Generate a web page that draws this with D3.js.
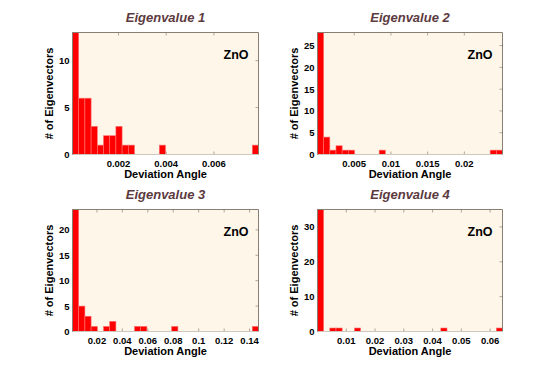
<!DOCTYPE html>
<html>
<head>
<meta charset="utf-8">
<script src="https://cdn.jsdelivr.net/npm/d3@7"></script>
<style>
    body { margin: 0; background: #ffffff; }
    text { font-family: "Liberation Sans", Arial, Helvetica, sans-serif; font-weight: bold; }
</style>
</head>
<body>
<div id="chart"></div>
<script>
/*global d3: false*/

// Histogram counts, 30 bins per panel
var counts1 = [13, 6, 6, 3, 1, 2, 2, 3, 1, 1, 0, 0, 0, 0, 1, 0, 0, 0, 0, 0, 0, 0, 0, 0, 0, 0, 0, 0, 0, 1];
var counts2 = [28, 4, 1, 2, 1, 1, 0, 0, 0, 0, 1, 0, 0, 0, 0, 0, 0, 0, 0, 0, 0, 0, 0, 0, 0, 0, 0, 0, 1, 1];
var counts3 = [24, 5, 3, 1, 0, 1, 2, 0, 0, 0, 1, 1, 0, 0, 0, 0, 1, 0, 0, 0, 0, 0, 0, 0, 0, 0, 0, 0, 0, 1];
var counts4 = [35, 0, 1, 1, 0, 0, 1, 0, 0, 0, 0, 0, 0, 0, 0, 0, 0, 0, 0, 0, 1, 0, 0, 0, 0, 0, 0, 0, 0, 1];

// Data range (min, max deviation angle) per panel
var range1 = [0.00007, 0.00787];
var range2 = [0.0000, 0.0252];
var range3 = [0.0008, 0.1470];
var range4 = [0.0000, 0.0643];

// Tick values
var xTicks1 = [0.002, 0.004, 0.006];
var xTicks2 = [0.005, 0.01, 0.015, 0.02];
var xTicks3 = [0.02, 0.04, 0.06, 0.08, 0.1, 0.12, 0.14];
var xTicks4 = [0.01, 0.02, 0.03, 0.04, 0.05, 0.06];
var yTicks1 = [0, 5, 10];
var yTicks2 = [0, 5, 10, 15, 20, 25];
var yTicks3 = [0, 5, 10, 15, 20];
var yTicks4 = [0, 10, 20, 30];

var titles = ['Eigenvalue 1', 'Eigenvalue 2', 'Eigenvalue 3', 'Eigenvalue 4'];
var material = 'ZnO';

function drawPanel(svg, box, counts, range, yMax, xTicks, yTicks, title) {
    'use strict';
    var g, x, y, n, step, edges, tickLen;

    n = counts.length;
    step = (range[1] - range[0]) / n;
    edges = counts.map(function(c, k) {
        return {x0: range[0] + k * step, x1: range[0] + (k + 1) * step, c: c};
    });
    tickLen = 3;

    x = d3.scaleLinear().domain(range).range([box.left, box.right]);
    y = d3.scaleLinear().domain([0, yMax]).range([box.bottom, box.top]);

    g = svg.append('g');

    // Background
    g.append('rect')
        .attr('x', box.left)
        .attr('y', box.top)
        .attr('width', box.right - box.left)
        .attr('height', box.bottom - box.top)
        .attr('fill', '#fff6ea');

    // Ticks on all four sides, pointing inward
    xTicks.forEach(function(t) {
        g.append('line')
            .attr('x1', x(t)).attr('x2', x(t))
            .attr('y1', box.bottom).attr('y2', box.bottom - tickLen)
            .attr('stroke', '#9a9088').attr('stroke-width', 0.8);
        g.append('line')
            .attr('x1', x(t)).attr('x2', x(t))
            .attr('y1', box.top).attr('y2', box.top + tickLen)
            .attr('stroke', '#9a9088').attr('stroke-width', 0.8);
    });
    yTicks.forEach(function(t) {
        g.append('line')
            .attr('x1', box.left).attr('x2', box.left + tickLen)
            .attr('y1', y(t)).attr('y2', y(t))
            .attr('stroke', '#9a9088').attr('stroke-width', 0.8);
        g.append('line')
            .attr('x1', box.right).attr('x2', box.right - tickLen)
            .attr('y1', y(t)).attr('y2', y(t))
            .attr('stroke', '#9a9088').attr('stroke-width', 0.8);
    });

    // Bars
    g.selectAll('rect.bar')
        .data(edges.filter(function(d) { return d.c > 0; }))
        .enter().append('rect')
        .attr('class', 'bar')
        .attr('x', function(d) { return x(d.x0); })
        .attr('y', function(d) { return y(d.c); })
        .attr('width', function(d) { return x(d.x1) - x(d.x0); })
        .attr('height', function(d) { return y(0) - y(d.c); })
        .attr('fill', '#ff0000')
        .attr('stroke', '#ff7070')
        .attr('stroke-width', 0.6);

    // Box
    g.append('line')
        .attr('x1', box.left).attr('x2', box.right)
        .attr('y1', box.top).attr('y2', box.top)
        .attr('stroke', '#8a7d72').attr('stroke-width', 1);
    g.append('line')
        .attr('x1', box.right).attr('x2', box.right)
        .attr('y1', box.top).attr('y2', box.bottom)
        .attr('stroke', '#8a7d72').attr('stroke-width', 1);
    g.append('line')
        .attr('x1', box.left).attr('x2', box.right)
        .attr('y1', box.bottom).attr('y2', box.bottom)
        .attr('stroke', '#cfc6bd').attr('stroke-width', 1);
    g.append('line')
        .attr('x1', box.left).attr('x2', box.left)
        .attr('y1', box.top).attr('y2', box.bottom)
        .attr('stroke', '#8a7d72').attr('stroke-width', 1);

    // Tick labels
    g.selectAll('text.xt')
        .data(xTicks)
        .enter().append('text')
        .attr('class', 'xt')
        .attr('x', function(d) { return x(d); })
        .attr('y', box.bottom + 12.5)
        .attr('text-anchor', 'middle')
        .attr('font-size', '9.5px')
        .attr('fill', '#000')
        .text(function(d) { return String(d); });
    g.selectAll('text.yt')
        .data(yTicks)
        .enter().append('text')
        .attr('class', 'yt')
        .attr('x', box.left - 3)
        .attr('y', function(d) { return y(d) + 3.5; })
        .attr('text-anchor', 'end')
        .attr('font-size', '9.5px')
        .attr('fill', '#000')
        .text(function(d) { return String(d); });

    // Axis labels
    g.append('text')
        .attr('x', (box.left + box.right) / 2)
        .attr('y', box.bottom + 23)
        .attr('text-anchor', 'middle')
        .attr('font-size', '11px')
        .attr('fill', '#000')
        .text('Deviation Angle');
    g.append('text')
        .attr('transform', 'translate(' + (box.left - 20) + ',' + ((box.top + box.bottom) / 2) + ') rotate(-90)')
        .attr('text-anchor', 'middle')
        .attr('font-size', '11px')
        .attr('fill', '#000')
        .text('# of Eigenvectors');

    // Title
    g.append('text')
        .attr('x', (box.left + box.right) / 2)
        .attr('y', box.top - 10.5)
        .attr('text-anchor', 'middle')
        .attr('font-size', '13px')
        .attr('font-style', 'italic')
        .attr('fill', '#5c3a3e')
        .text(title);

    // Material label
    g.append('text')
        .attr('x', box.right - 22.5)
        .attr('y', box.top + 26)
        .attr('text-anchor', 'middle')
        .attr('font-size', '12.5px')
        .attr('fill', '#000')
        .text(material);
}

(function() {
    'use strict';
    var svg, boxes;

    svg = d3.select('#chart').append('svg')
        .attr('width', 556)
        .attr('height', 373);

    boxes = [
        {left: 72.5, right: 258.5, top: 32.5, bottom: 154.5},
        {left: 317.5, right: 502.5, top: 32.5, bottom: 154.5},
        {left: 72.5, right: 258.5, top: 209.5, bottom: 331.5},
        {left: 317.5, right: 502.5, top: 209.5, bottom: 331.5}
    ];

    drawPanel(svg, boxes[0], counts1, range1, 13, xTicks1, yTicks1, titles[0]);
    drawPanel(svg, boxes[1], counts2, range2, 28, xTicks2, yTicks2, titles[1]);
    drawPanel(svg, boxes[2], counts3, range3, 24, xTicks3, yTicks3, titles[2]);
    drawPanel(svg, boxes[3], counts4, range4, 35, xTicks4, yTicks4, titles[3]);
}());
</script>
</body>
</html>
